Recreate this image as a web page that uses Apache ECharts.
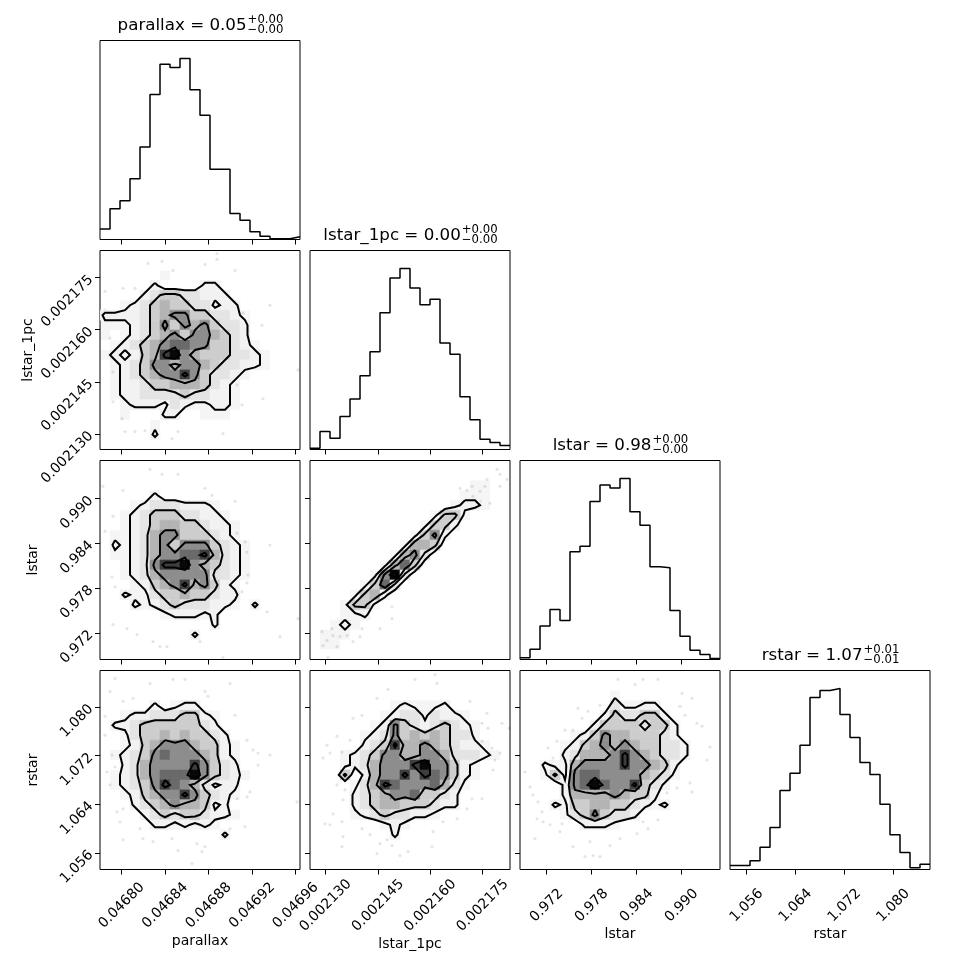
<!DOCTYPE html>
<html>
<head>
<meta charset="utf-8">
<script src="https://cdn.jsdelivr.net/npm/echarts@6/dist/echarts.min.js"></script>
<style>
html, body { margin: 0; padding: 0; background: #fff; }
#main { width: 970px; height: 970px; }
</style>
</head>
<body>
<div id="main"></div>
<script>
// parameters of the corner plot
var paramNames = ['parallax', 'lstar_1pc', 'lstar', 'rstar'];
var paramRanges = [[0.04678005, 0.04696395], [0.0021255, 0.00218283], [0.96844, 0.99511], [1.053268, 1.085988]];
var tickValues = [
    [0.04680, 0.04684, 0.04688, 0.04692, 0.04696],
    [0.002130, 0.002145, 0.002160, 0.002175],
    [0.972, 0.978, 0.984, 0.990],
    [1.056, 1.064, 1.072, 1.080]
];
var tickDecimals = [5, 6, 3, 3];
var titleValues = ['0.05', '0.00', '0.98', '1.07'];
var titlePlus = ['+0.00', '+0.00', '+0.00', '+0.01'];
var titleMinus = ['\u22120.00', '\u22120.00', '\u22120.00', '\u22120.01'];

// 1D histograms, 20 bins each
var histParallax = [32, 93, 117, 183, 279, 437, 528, 518, 545, 451, 374, 212, 212, 78, 58, 23, 10, 2, 2, 8];
var histLstar1pc = [4, 54, 34, 99, 151, 221, 293, 410, 514, 542, 484, 434, 450, 319, 285, 158, 89, 31, 21, 12];
var histLstar = [5, 31, 100, 150, 117, 323, 339, 473, 523, 514, 542, 443, 402, 278, 275, 147, 70, 28, 15, 3];
var histRstar = [12, 12, 26, 67, 126, 237, 289, 373, 516, 537, 543, 465, 396, 321, 285, 196, 104, 51, 5, 16];

// 2D density levels (0-9), 20x20 bins, rows from top (high y) to bottom
var densParallaxLstar1pc = [
    '00000000000000000000',
    '00000000000000000000',
    '00000010000000000000',
    '00000200002200000000',
    '00002344332220000000',
    '00123454433122000000',
    '22223456644332100000',
    '11123464656433200000',
    '10123456466543200000',
    '01234567766443210000',
    '12124589654443321000',
    '01234665665433221000',
    '01234566864332100000',
    '01223445554321000000',
    '01223333433221000000',
    '00122213211221000000',
    '00100022001110000000',
    '00000100000000000000',
    '00000200000000000000',
    '00000000000000000000'
];
var densParallaxLstar = [
    '00000000000000000000',
    '00000000000000000000',
    '00000000000000000000',
    '00000200000000000000',
    '00012333222100000000',
    '00123444332210000000',
    '00123455443221000000',
    '01123566444321000000',
    '02123564666432100000',
    '01123566778532100000',
    '00123688965432100000',
    '00123566666332100000',
    '00012456856421000000',
    '00211344544322000000',
    '00021234333221020000',
    '00000012221200000000',
    '00000000000200000000',
    '00000000020000000000',
    '00000000000000000000',
    '00000000000000000000'
];
var densLstar1pcLstar = [
    '00000000000000000000',
    '00000000000000000000',
    '00000000000000001100',
    '00000000000000011100',
    '00000000000000122100',
    '00000000000014410000',
    '00000000000144200000',
    '00000000001462000000',
    '00000000015540000000',
    '00000000156300000000',
    '00000001574000000000',
    '00000016930000000000',
    '00000147300000000000',
    '00001452000000000000',
    '00014410000000000000',
    '00011200000000000000',
    '00121000000000000000',
    '01110000000000000000',
    '01100000000000000000',
    '00000000000000000000'
];
var densParallaxRstar = [
    '00000000000000000000',
    '00000000000000000000',
    '00000000000000000000',
    '00000201220000000000',
    '00122333442100000000',
    '02234444443200000000',
    '00134454544320000000',
    '00124566654421000000',
    '01234676665421000000',
    '00235666686432000000',
    '01235677796432100000',
    '01234687653122000000',
    '00124566864321000000',
    '00023456554120000000',
    '00002343443221000000',
    '00000221212100000000',
    '00000000000020000000',
    '00000000000000000000',
    '00000000000000000000',
    '00000000000000000000'
];
var densLstar1pcRstar = [
    '00000000000000000000',
    '00000000000000000000',
    '00000000000000000000',
    '00000000121112000000',
    '00000001233132210000',
    '00000012643234321000',
    '00000123645454331000',
    '00000234855654322100',
    '00012346655665333210',
    '00012356668966421000',
    '00040256686876421000',
    '00001358766675310000',
    '00002345667443200000',
    '00002345544432200000',
    '00001234332210000000',
    '00000001210000000000',
    '00000000200000000000',
    '00000000000000000000',
    '00000000000000000000',
    '00000000000000000000'
];
var densLstarRstar = [
    '00000000000000000000',
    '00000000000000000000',
    '00000000010000000000',
    '00000000031122000000',
    '00000000243344200000',
    '00000002444434420000',
    '00000124655444320000',
    '00001245656544332000',
    '00002355568654332000',
    '00211566668665420000',
    '00141677666654310000',
    '00002679766843100000',
    '00002555565442000000',
    '00021445544321200000',
    '00001346433200000000',
    '00000022210000000000',
    '00000000000000000000',
    '00000000000000000000',
    '00000000000000000000',
    '00000000000000000000'
];

// scattered samples outside the contours, in bin units [column from left, row from top]
var ptsParallaxLstar1pc = [[0.5,4.1],[2.3,3.8],[3.5,3.8],[6.2,1.1],[4.8,1.3],[7.3,2.0],[10.5,1.4],[11.7,0.3],[11.7,0.9],[13.5,2.0],[14.3,6.3],[14.8,7.2],[17.0,5.5],[16.2,7.5],[19.8,12.0],[1.3,12.2],[1.3,15.2],[2.2,16.9],[2.5,18.2],[3.5,18.2],[4.5,18.1],[7.2,18.9],[7.8,18.2],[12.3,18.4],[16.3,14.9],[14.2,15.5],[13.7,13.5],[0.5,6.0],[1.0,8.8]];
var ptsParallaxLstar = [[0.3,2.6],[2.3,3.0],[5.0,0.9],[6.2,1.4],[7.8,1.4],[10.5,2.8],[11.2,3.5],[13.5,4.1],[13.7,7.3],[14.5,8.2],[14.7,9.2],[17.0,8.5],[14.8,11.5],[14.7,12.3],[14.2,13.2],[16.7,15.2],[18.0,17.7],[19.8,15.9],[5.3,18.2],[6.0,18.7],[6.7,18.7],[10.0,18.2],[12.3,19.8],[1.3,16.5],[2.7,16.9],[3.7,17.5],[1.5,12.7],[1.2,11.7],[0.5,7.1],[1.3,5.6]];
var ptsLstar1pcLstar = [[1.2,17.2],[1.3,18.6],[1.7,18.1],[2.2,16.9],[2.3,17.6],[3.0,17.7],[2.7,18.7],[1.8,19.8],[3.7,17.6],[4.3,18.2],[5.0,17.7],[5.2,16.9],[5.7,15.9],[7.0,16.9],[8.2,15.9],[8.2,14.7],[15.0,2.8],[15.7,3.0],[16.2,2.6],[16.3,3.6],[17.0,3.1],[17.5,2.6],[18.0,4.3],[18.7,0.9],[19.0,1.4],[19.0,2.6],[17.7,1.9],[17.0,4.1],[19.7,1.9],[16.7,4.8]];
var ptsParallaxRstar = [[1.5,0.8],[5.0,1.3],[7.3,0.9],[8.5,0.9],[10.5,2.1],[10.8,2.6],[3.3,2.8],[2.3,3.1],[1.0,2.1],[0.5,4.6],[13.0,1.3],[13.5,4.5],[14.7,7.0],[15.3,8.0],[15.8,8.3],[17.0,8.5],[15.8,9.5],[15.0,12.2],[14.7,12.7],[13.7,12.9],[19.7,13.2],[13.0,15.9],[14.5,15.7],[2.3,13.9],[1.7,14.2],[2.0,15.2],[2.3,17.0],[4.0,15.9],[4.3,16.9],[5.3,17.2],[7.2,16.9],[7.8,18.1],[9.7,17.4],[10.2,18.2],[9.2,19.4],[10.5,17.7],[1.0,11.5],[0.7,10.2],[1.2,8.5],[0.5,6.5],[1.5,9.7]];
var ptsLstar1pcRstar = [[10.5,0.9],[12.5,0.4],[12.7,1.3],[7.8,1.9],[6.7,2.8],[5.2,4.5],[4.3,4.8],[4.0,7.0],[2.7,6.6],[1.7,7.5],[2.0,8.3],[1.3,8.8],[3.2,8.2],[2.7,11.5],[3.5,12.0],[3.3,13.0],[2.3,14.4],[1.5,15.4],[2.0,15.5],[3.2,15.2],[3.3,16.7],[3.2,17.7],[5.2,15.9],[6.0,16.5],[7.0,17.4],[7.7,17.0],[8.2,17.6],[6.7,18.4],[9.0,18.6],[9.8,18.2],[12.2,17.7],[12.3,16.2],[13.3,15.2],[14.7,14.9],[15.7,13.9],[16.2,12.9],[17.2,12.9],[18.3,10.0],[18.5,9.0],[19.0,8.3],[18.2,7.8],[17.2,7.1],[16.3,6.8],[17.2,5.3],[17.8,5.8],[19.2,5.3],[17.7,4.3],[16.0,3.1],[19.9,5.8]];
var ptsLstarRstar = [[9.8,0.9],[12.3,0.9],[13.8,0.9],[11.5,1.4],[16.2,2.3],[17.2,2.8],[16.0,3.6],[16.5,4.5],[17.7,5.3],[18.2,5.6],[19.0,7.7],[18.7,9.0],[17.0,11.3],[17.2,12.2],[15.7,11.8],[14.7,12.3],[12.3,15.2],[12.8,15.9],[13.8,15.0],[11.7,16.4],[10.0,16.9],[9.0,17.6],[7.0,17.2],[7.3,18.6],[8.0,18.7],[6.5,18.7],[5.3,17.7],[4.0,16.2],[4.2,15.4],[3.0,15.5],[2.3,15.2],[1.5,16.9],[1.7,14.9],[2.2,14.2],[1.8,13.2],[1.3,12.5],[1.0,11.7],[3.3,8.8],[3.7,7.1],[2.8,7.8],[4.5,6.0],[5.3,6.0],[6.2,4.8],[6.8,4.1],[8.0,3.5],[5.8,3.8],[0.5,10.2]];

var histCounts = [histParallax, histLstar1pc, histLstar, histRstar];
var pairPanels = [
    { row: 1, col: 0, dens: densParallaxLstar1pc, pts: ptsParallaxLstar1pc },
    { row: 2, col: 0, dens: densParallaxLstar, pts: ptsParallaxLstar },
    { row: 2, col: 1, dens: densLstar1pcLstar, pts: ptsLstar1pcLstar },
    { row: 3, col: 0, dens: densParallaxRstar, pts: ptsParallaxRstar },
    { row: 3, col: 1, dens: densLstar1pcRstar, pts: ptsLstar1pcRstar },
    { row: 3, col: 2, dens: densLstarRstar, pts: ptsLstarRstar }
];

// styling
var FONT = '"DejaVu Sans", sans-serif';
var cellShades = ['transparent', 'rgba(0,0,0,0.04)', '#f2f2f2', '#e4e4e4', '#cdcdcd', '#b4b4b4', '#8d8d8d', '#6a6a6a', '#3e3e3e', '#080808'];
var contourLevels = [1.5, 3.5, 5.5, 7.5];

var measureCtx = document.createElement('canvas').getContext('2d');
function textWidth(s, size) {
    measureCtx.font = size + 'px ' + FONT;
    return measureCtx.measureText(s).width;
}

function binToValue(range, u) { return range[0] + u * (range[1] - range[0]) / 20; }
function rowToValue(range, u) { return range[1] - u * (range[1] - range[0]) / 20; }

function densAt(dens, c, r) {
    if (c < 0 || r < 0 || c > 19 || r > 19) return 0;
    return +dens[r].charAt(c);
}

// marching squares on bin centres, result in bin units [col, rowFromTop]
function contourSegments(dens, level) {
    var segs = [];
    for (var r = -1; r < 20; r++) {
        for (var c = -1; c < 20; c++) {
            var tl = densAt(dens, c, r), tr = densAt(dens, c + 1, r);
            var br = densAt(dens, c + 1, r + 1), bl = densAt(dens, c, r + 1);
            var x0 = c + 0.5, y0 = r + 0.5;
            function cross(va, vb, pa, pb) {
                var t = (level - va) / (vb - va);
                return [pa[0] + t * (pb[0] - pa[0]), pa[1] + t * (pb[1] - pa[1])];
            }
            var pTL = [x0, y0], pTR = [x0 + 1, y0], pBR = [x0 + 1, y0 + 1], pBL = [x0, y0 + 1];
            var e = {};
            if ((tl >= level) !== (tr >= level)) e.top = cross(tl, tr, pTL, pTR);
            if ((tr >= level) !== (br >= level)) e.right = cross(tr, br, pTR, pBR);
            if ((bl >= level) !== (br >= level)) e.bottom = cross(bl, br, pBL, pBR);
            if ((tl >= level) !== (bl >= level)) e.left = cross(tl, bl, pTL, pBL);
            var keys = Object.keys(e);
            if (keys.length === 2) {
                segs.push([e[keys[0]], e[keys[1]]]);
            } else if (keys.length === 4) {
                var centre = (tl + tr + br + bl) / 4;
                if ((centre >= level) === (tl >= level)) {
                    segs.push([e.top, e.right]);
                    segs.push([e.left, e.bottom]);
                } else {
                    segs.push([e.top, e.left]);
                    segs.push([e.right, e.bottom]);
                }
            }
        }
    }
    return segs;
}

function chainSegments(segs) {
    function key(p) { return p[0].toFixed(4) + '_' + p[1].toFixed(4); }
    var ends = {}, used = [], lines = [];
    segs.forEach(function (s, i) {
        [key(s[0]), key(s[1])].forEach(function (k) { (ends[k] = ends[k] || []).push(i); });
    });
    for (var i = 0; i < segs.length; i++) {
        if (used[i]) continue;
        used[i] = true;
        var line = [segs[i][0], segs[i][1]];
        [true, false].forEach(function (atEnd) {
            while (true) {
                var p = atEnd ? line[line.length - 1] : line[0];
                var k = key(p), nxt = -1;
                (ends[k] || []).forEach(function (j) { if (!used[j] && nxt < 0) nxt = j; });
                if (nxt < 0) break;
                used[nxt] = true;
                var s = segs[nxt];
                var q = key(s[0]) === k ? s[1] : s[0];
                if (atEnd) line.push(q); else line.unshift(q);
            }
        });
        lines.push(line);
    }
    return lines;
}

var grids = [], xAxes = [], yAxes = [], series = [], graphics = [];

function addGrid(row, col, yAxisOpt) {
    var idx = grids.length;
    var bottomRow = row === 3;
    grids.push({
        left: 100 + 210 * col, top: 40.5 + 210 * row, width: 200, height: 199,
        show: true, borderColor: '#000', borderWidth: 1, backgroundColor: 'transparent'
    });
    xAxes.push({
        gridIndex: idx, type: 'value', min: paramRanges[col][0], max: paramRanges[col][1],
        axisLine: { show: false }, splitLine: { show: false },
        axisTick: { show: true, length: 5, lineStyle: { color: '#000', width: 1 }, customValues: tickValues[col] },
        axisLabel: {
            show: bottomRow, customValues: tickValues[col], rotate: 45, align: 'center', verticalAlign: 'middle',
            margin: 36, fontSize: 14, fontFamily: FONT, color: '#000',
            formatter: function (v) { return (+v).toFixed(tickDecimals[col]); }
        },
        name: bottomRow ? paramNames[col] : '', nameLocation: 'middle', nameGap: 32,
        nameTextStyle: { fontSize: 14, fontFamily: FONT, color: '#000' }
    });
    yAxisOpt.gridIndex = idx;
    yAxes.push(yAxisOpt);
    return idx;
}

// diagonal histograms
histCounts.forEach(function (h, k) {
    var idx = addGrid(k, k, {
        type: 'value', min: 0, max: 1.1 * Math.max.apply(null, h),
        axisLine: { show: false }, axisTick: { show: false }, axisLabel: { show: false }, splitLine: { show: false }
    });
    var data = h.map(function (v, i) { return [binToValue(paramRanges[k], i), v]; });
    data.push([binToValue(paramRanges[k], 20), h[h.length - 1]]);
    series.push({
        type: 'line', xAxisIndex: idx, yAxisIndex: idx, data: data, step: 'end', symbol: 'none',
        lineStyle: { color: '#000', width: 1.5 }, silent: true, animation: false, z: 3
    });
    // title with super/subscript errors
    var top = 40.5 + 210 * k, cx = 200 + 210 * k;
    var mainText = paramNames[k] + ' = ' + titleValues[k];
    var w1 = textWidth(mainText, 16.7);
    var w2 = Math.max(textWidth(titlePlus[k], 11.7), textWidth(titleMinus[k], 11.7));
    var x0 = cx - (w1 + w2) / 2;
    graphics.push({ type: 'text', x: x0, y: top - 15, style: { text: mainText, font: '16.7px ' + FONT, fill: '#000', align: 'left', verticalAlign: 'middle' } });
    graphics.push({ type: 'text', x: x0 + w1 + 1, y: top - 21, style: { text: titlePlus[k], font: '11.7px ' + FONT, fill: '#000', align: 'left', verticalAlign: 'middle' } });
    graphics.push({ type: 'text', x: x0 + w1 + 1, y: top - 11, style: { text: titleMinus[k], font: '11.7px ' + FONT, fill: '#000', align: 'left', verticalAlign: 'middle' } });
});

// 2D panels
pairPanels.forEach(function (p) {
    var xr = paramRanges[p.col], yr = paramRanges[p.row];
    var leftCol = p.col === 0;
    var idx = addGrid(p.row, p.col, {
        type: 'value', min: yr[0], max: yr[1],
        axisLine: { show: false }, splitLine: { show: false },
        axisTick: { show: true, length: 5, lineStyle: { color: '#000', width: 1 }, customValues: tickValues[p.row] },
        axisLabel: {
            show: leftCol, customValues: tickValues[p.row], rotate: 45, margin: 9,
            fontSize: 14, fontFamily: FONT, color: '#000',
            formatter: function (v) { return (+v).toFixed(tickDecimals[p.row]); }
        },
        name: leftCol ? paramNames[p.row] : '', nameLocation: 'middle', nameGap: 60,
        nameTextStyle: { fontSize: 14, fontFamily: FONT, color: '#000' }
    });

    series.push({
        type: 'scatter', xAxisIndex: idx, yAxisIndex: idx, symbolSize: 3.2,
        itemStyle: { color: 'rgba(0,0,0,0.13)' }, silent: true, animation: false, z: 1,
        data: p.pts.map(function (q) { return [binToValue(xr, q[0]), rowToValue(yr, q[1])]; })
    });

    var cells = [];
    for (var r = 0; r < 20; r++) {
        for (var c = 0; c < 20; c++) {
            var v = densAt(p.dens, c, r);
            if (v > 0) cells.push([binToValue(xr, c), binToValue(xr, c + 1), rowToValue(yr, r + 1), rowToValue(yr, r), v]);
        }
    }
    series.push({
        type: 'custom', xAxisIndex: idx, yAxisIndex: idx, data: cells, encode: { x: [0, 1], y: [2, 3] },
        silent: true, animation: false, z: 2, clip: true,
        renderItem: function (params, api) {
            var a = api.coord([api.value(0), api.value(3)]);
            var b = api.coord([api.value(1), api.value(2)]);
            var lvl = api.value(4), fill = cellShades[lvl];
            return {
                type: 'rect', shape: { x: a[0], y: a[1], width: b[0] - a[0], height: b[1] - a[1] },
                style: { fill: fill, stroke: lvl > 1 ? fill : null, lineWidth: lvl > 1 ? 0.6 : 0 }
            };
        }
    });

    contourLevels.forEach(function (level) {
        var polys = chainSegments(contourSegments(p.dens, level));
        series.push({
            type: 'lines', coordinateSystem: 'cartesian2d', xAxisIndex: idx, yAxisIndex: idx, polyline: true,
            silent: true, animation: false, z: 4,
            lineStyle: { color: '#000', width: 2, opacity: 1, curveness: 0 },
            data: polys.map(function (line) {
                return { coords: line.map(function (q) { return [binToValue(xr, q[0]), rowToValue(yr, q[1])]; }) };
            })
        });
    });
});

var chart = echarts.init(document.getElementById('main'), null, { renderer: 'canvas' });
chart.setOption({
    backgroundColor: '#fff',
    animation: false,
    grid: grids,
    xAxis: xAxes,
    yAxis: yAxes,
    series: series,
    graphic: graphics
});
</script>
</body>
</html>
